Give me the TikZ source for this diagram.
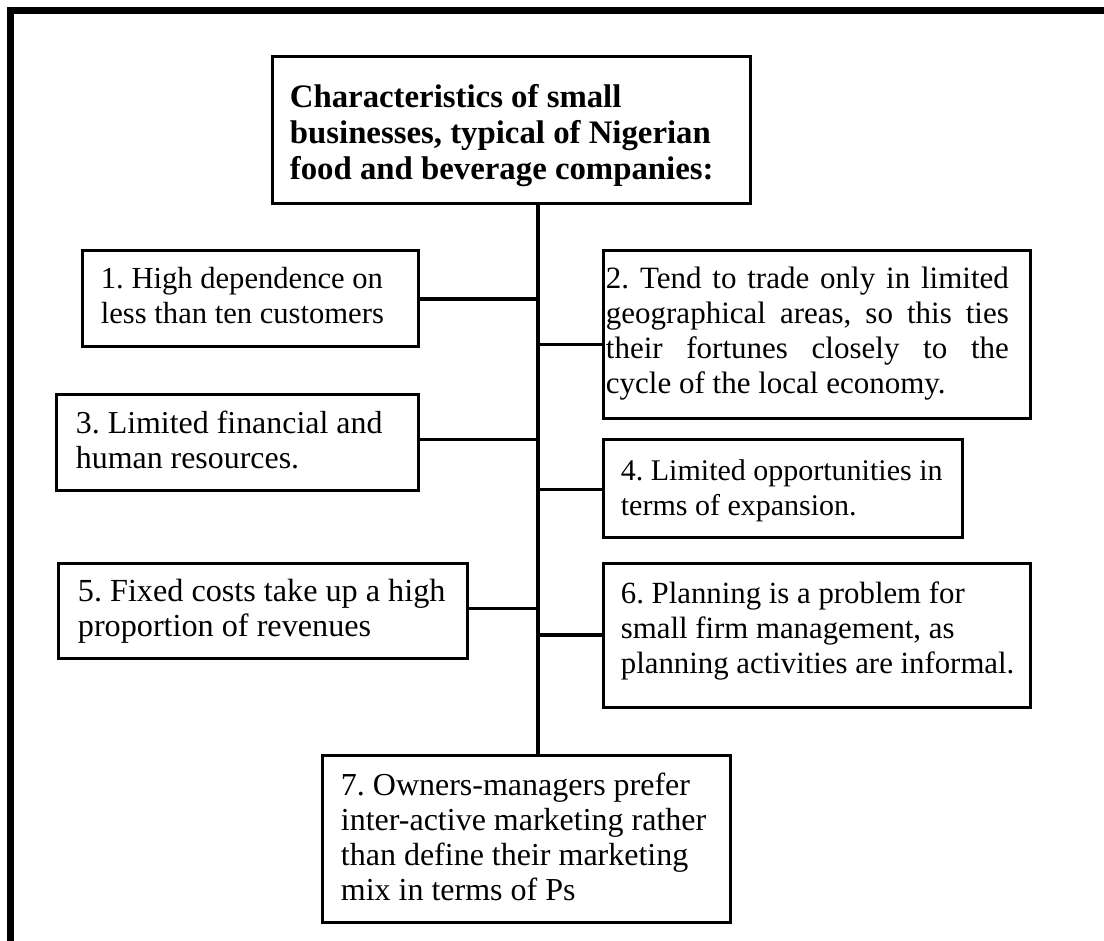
\documentclass[tikz,border=0pt]{standalone}
\usepackage{fontspec}
\setmainfont{Liberation Serif}
\usetikzlibrary{fit,calc}
\frenchspacing
% invisible rule fixing the height of the first text line in every box
\newcommand{\firstline}{\rule{0pt}{12pt}}
\newcommand{\firsthead}{\rule{0pt}{13pt}}
\newcommand{\jline}[1]{\makebox[201.5pt][s]{#1}}
\begin{document}
\begin{tikzpicture}[x=0.5pt,y=-0.5pt,
  box/.style={draw, line width=1.5pt, inner sep=0pt},
  body/.style={anchor=north west, inner sep=0pt, align=left,
    font=\frenchspacing\fontsize{#1}{17.5pt}\selectfont},
  body/.default=15pt,
  head/.style={anchor=north west, inner sep=0pt, align=left,
    font=\frenchspacing\bfseries\fontsize{16.4pt}{18pt}\selectfont},
  link/.style={line width=1.75pt},
  spineline/.style={line width=2pt}]
\useasboundingbox (0,0) rectangle (1104,941);

% open frame: top and left edges only
\draw[line width=3.35pt, line join=miter] (10.7,941) -- (10.7,10.7) -- (1104,10.7);

% heading
\node[box, fit={(272,57) (750,204)}] (title) {};
\node[head] (titletext) at ($(title.north west)+(19,26)$)
  {\firsthead Characteristics of small\\businesses, typical of Nigerian\\food and beverage companies:};

% characteristic boxes
\node[box, fit={(82,251) (418,347)}] (b1) {};
\node[body=15.3pt] (t1) at ($(b1.north west)+(20,15)$)
  {\firstline 1. High dependence on\\less than ten customers};

\node[box, fit={(603,251) (1030,419)}] (b2) {};
\node[body=15.5pt] (t2) at ($(b2.north west)+(4,15)$)
  {\firstline\jline{2. Tend to trade only in limited}\\
   \jline{geographical areas, so this ties}\\
   \jline{their fortunes closely to the}\\
   cycle of the local economy.};

\node[box, fit={(56,395) (418,490)}] (b3) {};
\node[body=15.95pt] (t3) at ($(b3.north west)+(21,16)$)
  {\firstline 3. Limited financial and\\human resources.};

\node[box, fit={(603,440) (962,537)}] (b4) {};
\node[body=15pt] (t4) at ($(b4.north west)+(19,18)$)
  {\firstline 4. Limited opportunities in\\terms of expansion.};

\node[box, fit={(58,563) (467,658)}] (b5) {};
\node[body=16.1pt] (t5) at ($(b5.north west)+(21,16)$)
  {\firstline 5. Fixed costs take up a high\\proportion of revenues};

\node[box, fit={(603,563) (1030,707)}] (b6) {};
\node[body=15.4pt] (t6) at ($(b6.north west)+(19,18)$)
  {\firstline 6. Planning is a problem for\\small firm management, as\\planning activities are informal.};

\node[box, fit={(322,755) (730,922)}] (b7) {};
\node[body=16pt] (t7) at ($(b7.north west)+(20,18)$)
  {\firstline 7. Owners-managers prefer\\inter-active marketing rather\\than define their marketing\\mix in terms of Ps};

% vertical spine from the heading down to the last box
\coordinate (spine) at (538,0);
\draw[spineline] (title.south -| spine) -- (b7.north -| spine);

% points where the branches leave the boxes
\coordinate (p1) at (b1.east);
\coordinate (p2) at ($(b2.north west)+(0,95)$);
\coordinate (p3) at ($(b3.north east)+(0,46)$);
\coordinate (p4) at ($(b4.north west)+(0,51)$);
\coordinate (p5) at ($(b5.north east)+(0,47)$);
\coordinate (p6) at (b6.west);

% branches
\foreach \p in {p1,p2,p3,p4,p5,p6}
  \draw[link] (\p) -- (\p -| spine);
\end{tikzpicture}
\end{document}
